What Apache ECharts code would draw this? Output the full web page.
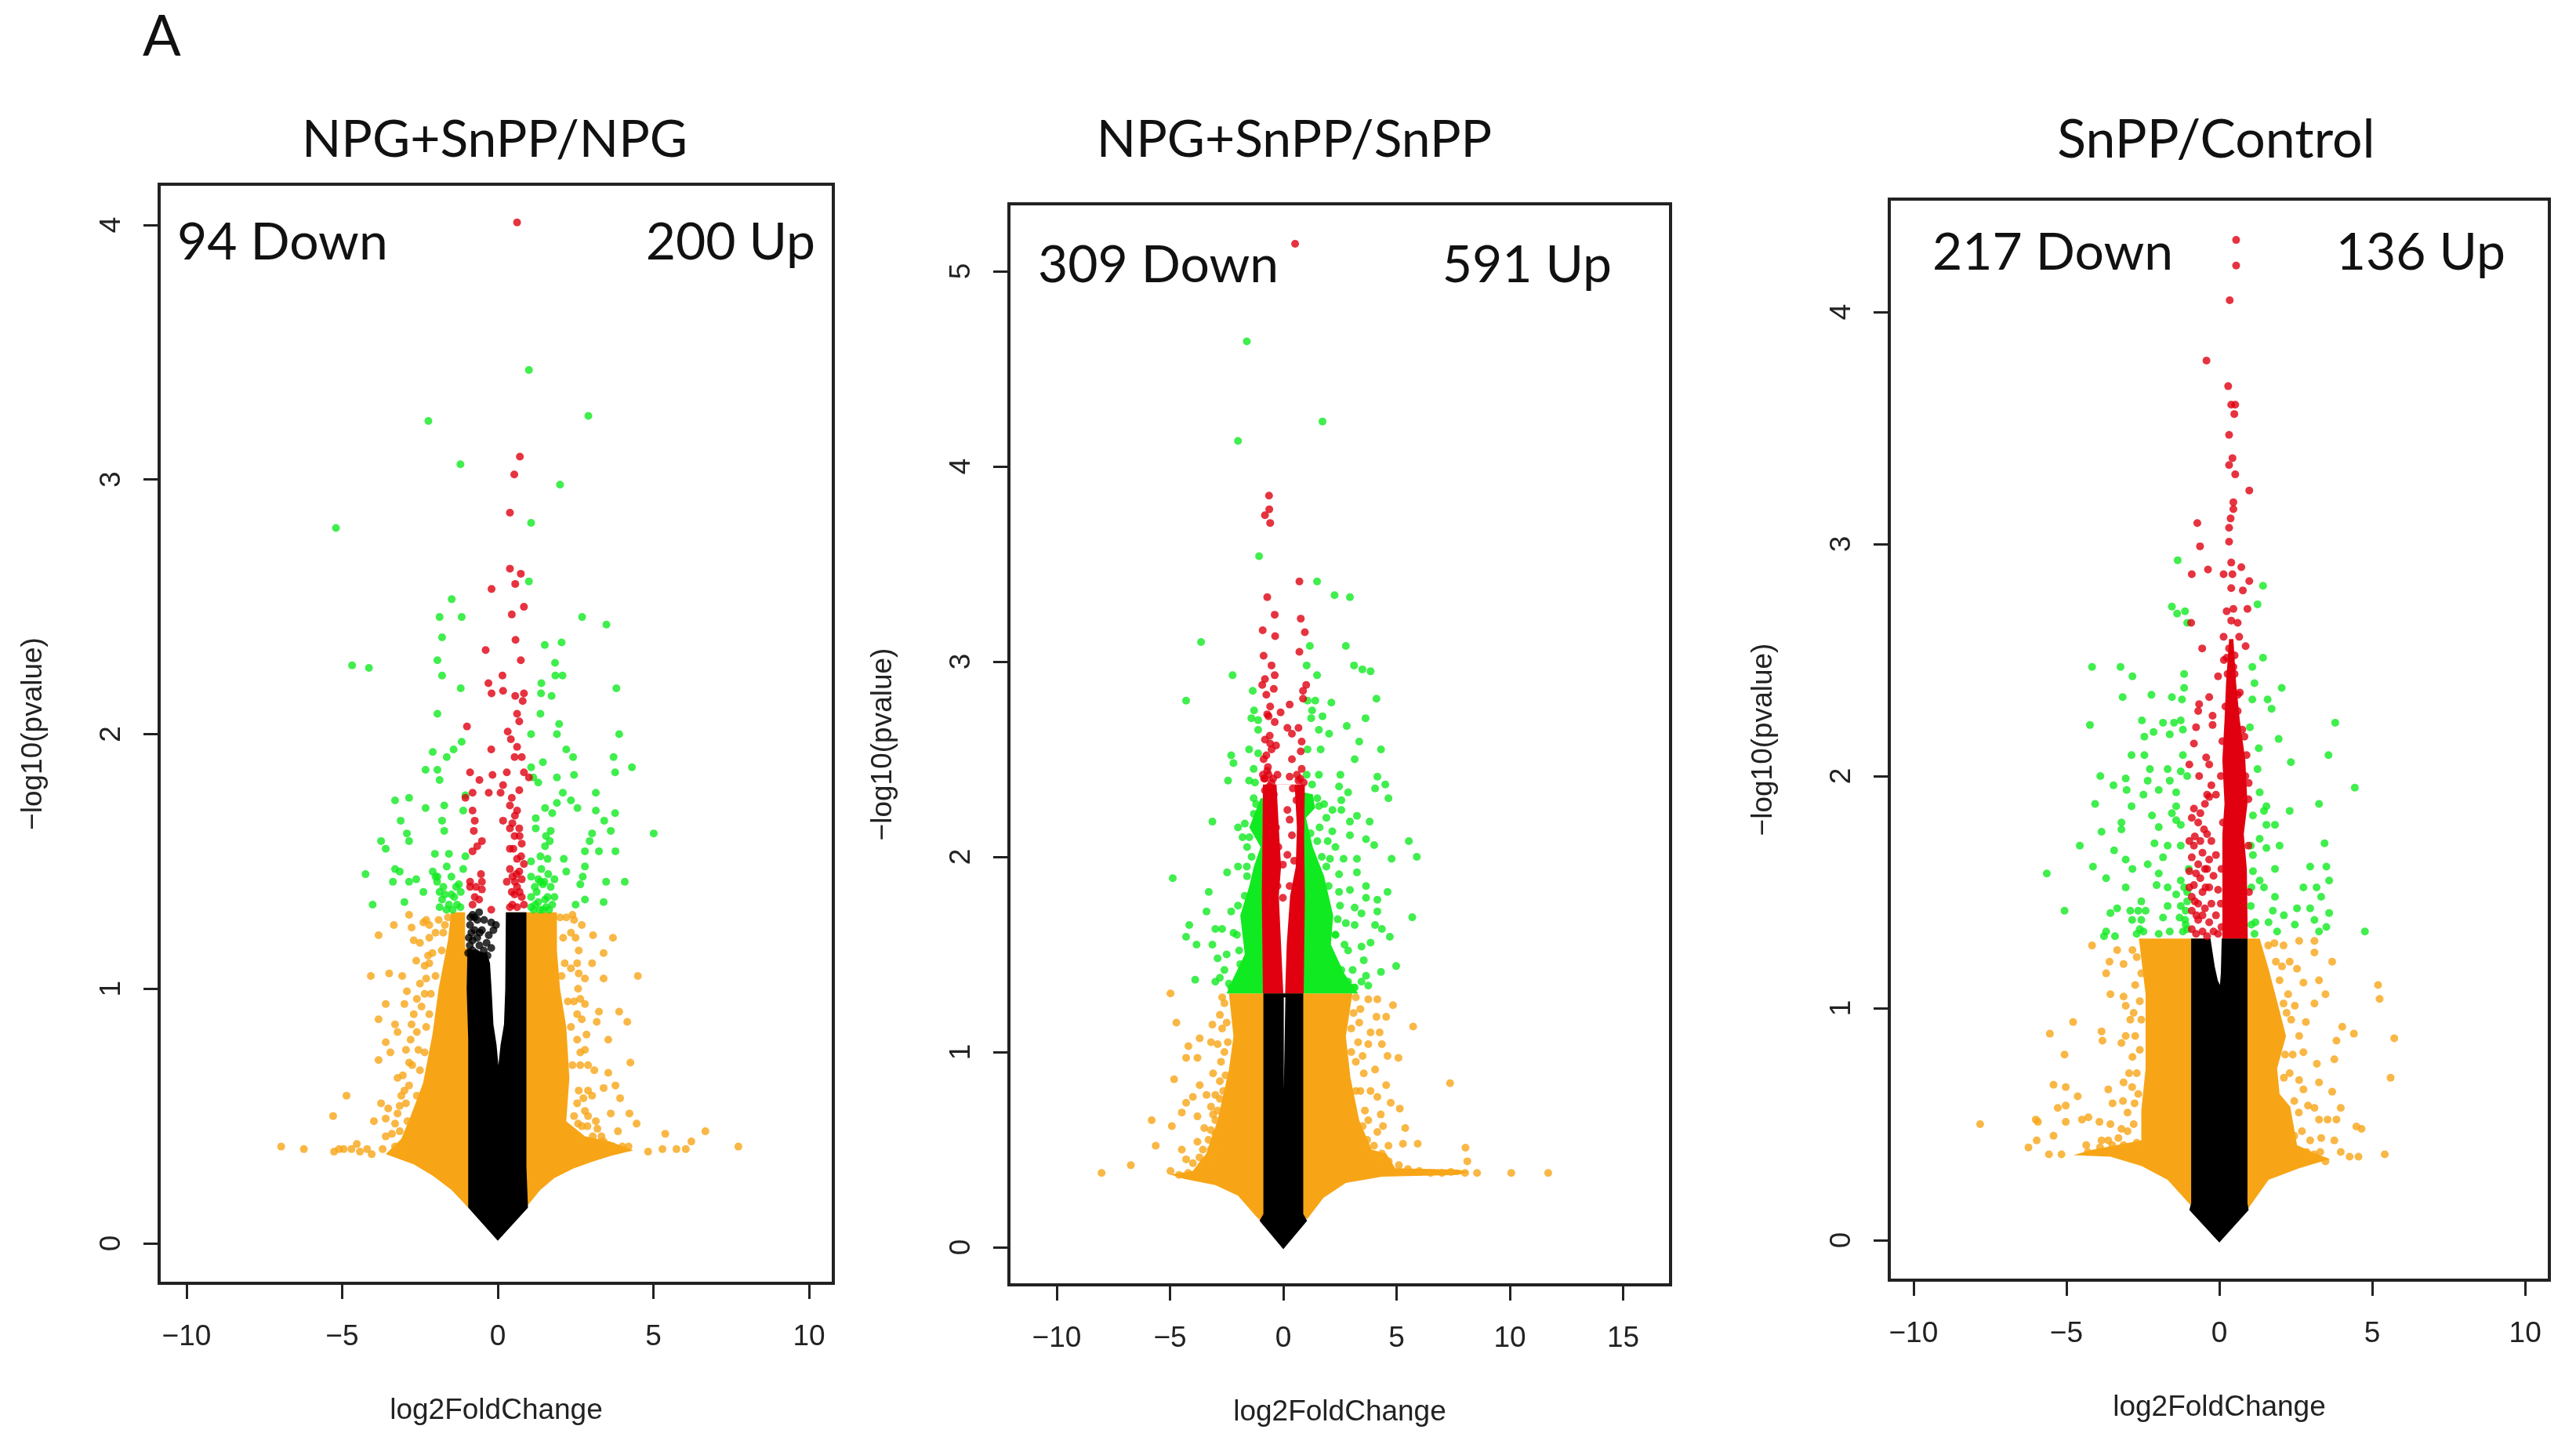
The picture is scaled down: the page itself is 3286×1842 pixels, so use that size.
<!DOCTYPE html>
<html><head><meta charset="utf-8">
<style>html,body{margin:0;padding:0;background:#fff}#c{width:3286px;height:1842px}</style>
<script src="https://cdn.jsdelivr.net/npm/echarts@6/dist/echarts.min.js"></script>
</head><body><div id="c"></div>
<script>
// ---------- text ----------
const panelTitles = ['NPG+SnPP/NPG','NPG+SnPP/SnPP','SnPP/Control'];
const downLabels = ['94 Down','309 Down','217 Down'];
const upLabels = ['200 Up','591 Up','136 Up'];
const xName = 'log2FoldChange';
const yName = '\u2212log10(pvalue)';
const xTicks = [[-10,-5,0,5,10],[-10,-5,0,5,10,15],[-10,-5,0,5,10]];
const yTicks = [[0,1,2,3,4],[0,1,2,3,4,5],[0,1,2,3,4]];

// ---------- panel 1: hand-read points [log2FC, -log10 p] ----------
const p1Red=[[.62,4.01],[.71,3.09],[.53,3.02],[.39,2.87],[.39,2.65],[.74,2.63],[.56,2.59],[-.2,2.57],[.84,2.5],[.45,2.47],[.57,2.37],[-.39,2.33],[.74,2.29],[.15,2.23],[-.3,2.2],[-.2,2.16],[.17,2.17],[.56,2.15],[.84,2.16],[.8,2.13],
[.62,2.08],[.69,2.05],[-.99,2.03],[.32,2.01],[.42,1.98],[.62,1.95],[-.21,1.94],[.54,1.91],[.77,1.91],[.84,1.85],[-.89,1.85],[.29,1.85],[-.17,1.84],[1,1.83],[-.59,1.82],[.17,1.8],[-.81,1.77],[-.29,1.77],[.09,1.77],[.69,1.78],[-1.04,1.75],[.39,1.72],[.62,1.7],[.17,1.66],[-.81,1.7],[-.74,1.66],[.47,1.65],[.69,1.63],[.39,1.63],[-.77,1.62],[.54,1.6],[-.51,1.58],[.39,1.55],[.77,1.57],[-.66,1.56],[-.81,1.54],[.62,1.51],[.84,1.49],[.39,1.47],[.69,1.46],[-.54,1.45],[-.89,1.42],[-.51,1.42],[.47,1.44],[.77,1.43],[.29,1.42],[.62,1.4],[-.89,1.4],[-.51,1.39],[.54,1.37],[-.74,1.36],[.77,1.36],[.47,1.33],[-.81,1.33],[-.21,1.31],[.62,1.32],[.84,1.33],[.39,1.32],[.55,1.68],[.45,1.75],[.75,1.52],[.55,1.42],[.7,1.38],[.45,1.38],[.6,1.45],[.5,1.55],[.7,1.6],[-.7,1.4],[-.6,1.35]];
const p1Green=[[1,3.43],[2.91,3.25],[-2.23,3.23],[-1.2,3.06],[2,2.98],[-5.2,2.81],[1.07,2.83],[1,2.6],[-1.48,2.53],[-1.87,2.46],[-1.16,2.46],[2.71,2.46],[3.49,2.43],[-1.79,2.38],[1.51,2.35],[2.05,2.36],[-1.94,2.29],[-4.68,2.27],[-4.14,2.26],[1.84,2.28],[-1.79,2.23],[1.85,2.23],[2.08,2.23],[-1.19,2.18],[1.4,2.2],[3.81,2.18],[1.39,2.16],[1.73,2.15],
[-1.94,2.08],[1.37,2.08],[1.97,2.04],[1.07,2],[1.9,2],[3.9,2],[-1.16,1.97],[-1.42,1.94],[-2.09,1.93],[-1.64,1.91],[2.2,1.94],[2.42,1.91],[1.45,1.89],[1.07,1.87],[-2.32,1.86],[-1.94,1.86],[3.72,1.91],[3.77,1.85],[4.31,1.87],[1.14,1.83],[1.9,1.83],[2.45,1.84],[-1.87,1.82],[1.3,1.81],[3.15,1.77],[2.09,1.77],[-3.3,1.74],[-2.85,1.75],[-1.04,1.76],[1.9,1.73],[2.35,1.74],[-2.32,1.71],[-1.72,1.72],[-1.11,1.7],[1.52,1.71],[2.56,1.71],[3.15,1.7],[3.77,1.69],[-3.12,1.66],[-1.79,1.66],[1.75,1.69],[1.22,1.67],[3.42,1.66],[3.03,1.61],[3.63,1.62],[5.01,1.61],[-2.92,1.61],[-1.72,1.62],[1.22,1.63],[-2.85,1.58],[-3.75,1.58],[1.67,1.58],[2.95,1.58],[2.8,1.54],[1.52,1.56],[-3.6,1.55],[-2.02,1.53],[-1.57,1.53],[-1.04,1.52],[3.78,1.54],[3.25,1.54],[1.37,1.52],[1.07,1.5],[1.6,1.51],[2.12,1.51],[-3.3,1.47],[-1.64,1.48],[-1.11,1.47],[2.8,1.48],[2.2,1.46],[-3.15,1.46],[-2.09,1.46],[-1.94,1.44],[-4.25,1.45],[-1.49,1.44],[2.73,1.44],[1.82,1.43],[3.48,1.42],[4.08,1.42],[-2.62,1.43],[-3.37,1.42],[-2.85,1.42],[-2.39,1.38],[-1.87,1.38],[-1.34,1.4],[1.3,1.43],[1.07,1.44],[1.45,1.41],[2.65,1.41],[-1.49,1.37],[-1.19,1.38],[-1.79,1.35],[-1.57,1.33],[-1.31,1.33],[-1.87,1.32],[-4.02,1.33],[-3,1.34],[1.07,1.36],[1.3,1.34],[1.52,1.35],[1.82,1.36],[1.07,1.32],[1.45,1.31],[1.75,1.33],[2.5,1.33],[2.8,1.35],[3.4,1.34],[1.19,1.4],[1.37,1.42],[-2,1.44],[-1.95,1.42],[-1.7,1.37],[-1.4,1.36],[-1.2,1.32],[1.2,1.33],[1.6,1.36],[1.25,1.38],[1.5,1.42],[1.7,1.4],[1.55,1.32],[1.15,1.31],[1.35,1.31],[1.65,1.31],[-1.65,1.31],[-1.45,1.31],[-1.75,1.4],[-1.25,1.41],[1.62,1.45],[1.4,1.47],[1.55,1.6],[1.7,1.62]];
const p1Orange=[[-6.96,.38],[-6.23,.37],[-5.29,.5],[-4.86,.58],[-5.26,.36],[-4.95,.37],[-4.53,.39],[-4.43,.36],[-4.05,.35],[-3.98,.48],[-3.75,.55],[-3.6,.49],[-3.52,.53],[-3.15,.54],[-3.22,.65],[-3.83,.72],[-3.45,.75],[-3.6,.79],[-3.22,.83],[-3.83,.88],[-3.6,.94],[-3.3,.86],[-4.08,1.05],[-3.49,1.06],[-3.07,1.05],[-2.92,.99],[-3,.94],[-3.83,1.21],[-3.34,1.25],[-2.85,1.29],[-2.77,1.24],[-2.39,1.26],[-2.7,1.19],[-2.62,1.11],[-2.24,1.13],[-2.77,.86],[-2.85,.71],[-3,.6],[-3.22,.51],[-5.1,.37],[-4.7,.37],[-4.2,.37],
[-2.3,1.27],[-2.2,1.2],[-2.5,1.18],[-2.35,1.09],[-2.5,1.02],[-2.3,1.04],[-2.6,.96],[-2.45,.93],[-2.7,.9],[-2.6,.83],[-2.8,.8],[-2.55,.76],[-2.95,.76],[-2.75,.7],[-3.05,.66],[-2.85,.62],[-3.1,.58],[-2.95,.55],[-3.3,.47],[-3.4,.43],[-3.15,.44],[-3.6,.42],[-2.6,.58],[-2.9,.48],[-2.2,1.25],[-1.9,1.27],[-2,1.22],[-2.1,1.14],[-3.7,.37],[-3.3,.38],[-3,.36],
[-1.7,1.25],[-1.8,1.15],[-2,1.05],[-2.15,.98],[-2.2,.9],[-2.3,.85],[-2.35,.75],[-2.5,.68],[-2.2,1.1],[-2.35,.98],[-1.6,1.28],[-1.75,1.22],
[7.73,.38],[6.67,.44],[6.22,.4],[6.04,.37],[5.74,.37],[5.29,.37],[5.38,.43],[4.83,.36],[4.46,.47],[4.23,.51],[4.26,.71],[4.16,.87],[3.9,.91],[4.5,1.05],[3.7,1.2],[3.06,1.21],[3.4,1.14],[3.03,1.1],[3.4,1.04],[2.8,1.04],[2.58,1],[3.25,.91],[2.8,.94],[3.18,.87],[3.55,.8],[2.8,.76],[3.1,.68],[3.55,.67],[3.78,.62],[3.4,.61],[3.93,.57],[3.63,.51],[3.03,.58],[2.8,.52],[3.86,.44],[3.33,.42],[2.88,.46],[2.58,.47],[2.7,1.25],[2.6,1.15],[2.45,1.27],[2.55,.9],[2.65,.7],[2.9,.6],[3.2,.45],
[2.4,1.29],[2.5,1.2],[2.35,1.22],[2.55,1.1],[2.35,1.08],[2.6,1.06],[2.65,.96],[2.45,.95],[2.7,.88],[2.55,.8],[2.85,.82],[2.65,.75],[2.9,.7],[2.6,.6],[2.75,.57],[2.55,.55],[2.45,.5],[2.9,.5],[3.05,.42],[3.4,.4],[3.7,.38],[4,.38],[4.2,.38],[2.7,.46],[2.6,.42],[3.15,.48],
[2,1.28],[2.1,1.2],[2.15,1.1],[2.25,.95],[2.35,.85],[2.4,.7],[2.05,1.05],[2.2,1.28]];
const p1BlackDots=[[-.81,1.29],[-.66,1.27],[-.44,1.27],[-.21,1.26],[-.74,1.23],[-.51,1.23],[-.29,1.21],[-.14,1.23],[-.81,1.19],[-.59,1.17],[-.36,1.18],[-.21,1.16],[-.81,1.15],[-.06,1.25],[-.89,1.25],[-.66,1.2],[-.88,1.28],[-.7,1.14],[-.5,1.12],[-.93,1.2],[-.9,1.17],[-.75,1.28],[-.58,1.22],[-.45,1.15],[-.33,1.13],[-.95,1.14],[-.6,1.3],[-.85,1.22]];
// envelopes of regions where the dots merge into a solid fill
const p1OrangeFill=[[-.95,.14],[-1.49,.21],[-2.09,.266],[-2.7,.31],[-3.6,.35],[-3.1,.41],[-2.8,.5],[-2.4,.63],[-2.1,.82],[-1.9,1],[-1.6,1.19],[-1.5,1.3],[1.9,1.3],[1.9,1.15],[2,1],[2.2,.85],[2.3,.65],[2.2,.48],[2.8,.42],[3.6,.4],[4.35,.365],[3.63,.343],[3.03,.32],[2.42,.293],[1.82,.256],[1.37,.21],[.9,.14]];
const p1BlackFill=[[0,.01],[.97,.14],[.92,.3],[.92,1.3],[-.95,1.3],[-1,1],[-.95,.8],[-.95,.14]];
const p1BlackGap=[[-1.05,1.31],[.26,1.31],[.24,1],[.2,.86],[.09,.78],[.02,.7],[-.04,.78],[-.14,.86],[-.2,1],[-.25,1.1],[-.35,1.14],[-1.05,1.16]];

// ---------- panel 2 ----------
const p2Red=[[.52,5.14],[-.63,3.85],[-.62,3.78],[-.81,3.75],[-.58,3.71],[.71,3.41],[-.71,3.33],[-.38,3.24],[.77,3.22],[-.91,3.16],[.95,3.15],[-.36,3.13],[.71,3.05],[-.87,3.03],[-.52,2.98],[-.38,2.93],[-.81,2.91],[-.93,2.88],[1.01,2.88],[-.42,2.86],[-.75,2.83],[.87,2.85],[-.58,2.77],[.28,2.78],[.87,2.81],[-.71,2.73],[-.12,2.74],[-.38,2.69],[.18,2.66],[.67,2.66],[.38,2.63],[.81,2.59],[-.81,2.6],[-.58,2.58],[-.32,2.57],[-.52,2.55],[.77,2.54],[.38,2.5],[-.87,2.5],[.81,2.45],[-.71,2.44],[-.26,2.42],[-.81,2.4],[.28,2.41],[-.52,2.38],[.67,2.39],[-.81,2.34],[-.42,2.32],[.42,2.35],[.77,2.32],[-.71,2.28],[-.52,2.27],[.58,2.29],[-.65,2.72],[-.6,2.62],[-.75,2.52],[-.68,2.46],[-.62,2.36],[-.85,2.4],[-.65,2.42],[-.45,2.4],[.6,2.42],[.75,2.4],[.9,2.38],[-.9,2.42],
[.18,2.24],[.28,2.19],[-.32,2.15],[.38,2.11],[-.22,2.05],[.18,2.01],[-.02,1.96],[-.32,1.93],[.48,1.98],[.28,1.85],[-.02,1.79],[-.26,1.85]];
const p2Green=[[-1.61,4.64],[1.73,4.23],[-2,4.13],[-1.07,3.54],[1.49,3.41],[2.26,3.34],[2.94,3.33],[-3.63,3.1],[1.17,3.08],[2.76,3.08],[1.03,2.98],[3.12,2.98],[3.49,2.96],[3.85,2.95],[-2.24,2.93],[1.49,2.93],[-1.35,2.85],[-4.29,2.8],[4.11,2.81],[1.07,2.8],[1.41,2.8],[2.12,2.79],[-1.29,2.75],[1.27,2.75],[-1.41,2.71],[-1.11,2.7],[1.73,2.72],[1.23,2.71],[3.63,2.71],[2.8,2.67],[1.57,2.65],[2.02,2.63],[-1.11,2.65],[3.35,2.59],[1.07,2.55],[1.65,2.55],[4.31,2.55],[-1.51,2.55],[-2.3,2.52],[-2.2,2.48],[-1.11,2.53],[3.15,2.5],[-1.31,2.45],[1.03,2.42],[1.57,2.42],[2.52,2.42],[-2.44,2.39],[4.15,2.41],[-1.51,2.39],[-1.25,2.38],[2.46,2.36],[4.5,2.37],[4.05,2.35],[1.27,2.37],[2.86,2.33],[4.64,2.3],[2.56,2.29],[-1.31,2.3],
[-3.13,2.18],[-4.88,1.89],[-2.48,1.92],[-3.29,1.82],[-3.39,1.72],[-4.15,1.65],[-4.29,1.59],[-3.83,1.55],[-3.13,1.55],[-3,1.63],[-2.7,1.63],[-2.2,1.61],[-2.9,1.48],[-2.6,1.42],[-3.89,1.37],[-3,1.36],[-2.4,1.35],[-2,1.95],[-1.61,1.95],[-2,2.15],[-1.8,2.1],[-1.6,2.05],[-2.3,1.72],[-2.5,1.5],[-2.8,1.38],
[-2.3,1.33],[-2,1.36],[-1.9,1.45],[-1.95,1.52],[-2.05,1.6],[-2,1.75],[-1.7,1.8],[-1.6,1.9],[-1.4,2],[-1.5,2.1],[-1.7,2.17],[-1.3,2.22],[-1.2,2.27],
[5.54,2.08],[5.89,2],[4.78,1.99],[4.6,1.82],[5.69,1.69],[4.7,1.59],[4.98,1.44],[4.31,1.41],[3.81,2.18],[3.25,2.21],[2.94,2.18],[2.94,2.11],[3.65,2.09],[4.01,2.06],[2.66,1.99],[3.25,1.99],[3.25,1.92],[2.46,1.91],[3.65,1.85],[2.94,1.83],[2.46,1.82],[4.15,1.78],[3.65,1.79],[3.15,1.74],[4.15,1.72],[3.45,1.71],[2.76,1.66],[3.15,1.65],[4.05,1.65],[3.85,1.56],[3.45,1.54],[4.35,1.63],[2.86,1.52],[3.55,1.47],[2.56,1.42],[3.06,1.42],[3.65,1.39],[2.86,1.36],[3.75,1.34],[3.15,1.33],[3.45,1.36],[1.96,2.08],[2.17,2.24],[2.56,2.24],[1.57,2.26],[2.06,1.99],[2.16,2.13],[2.3,1.6],[2.5,1.75],[2.7,1.55],[1.6,2.15],[1.9,2.2],[2.3,2.05],
[3.1,1.33],[2.6,1.36],[2.3,1.44],[2.3,1.6],[2.4,1.68],[2,1.85],[1.9,1.95],[1.5,2.08],[1.7,2],[1.2,2.12],[1.5,2.3],[1.8,2.27]];
const p2Orange=[[-8.02,.38],[-6.73,.42],[-5.63,.52],[-5.81,.65],[-4.92,.62],[-4.98,1.3],[-4.72,1.15],[-4.82,.86],[-4.98,.39],[-4.48,.5],[-4.29,.45],[-4.48,.69],[-4.19,1.03],[-4.29,.97],[-3.69,1.07],[-3.79,.97],[-3.19,1.05],[-3.13,1.14],[-2.8,1.19],[-2.7,1.28],[-2.9,1.04],[-3.1,.89],[-3.69,.83],[-3.39,.78],[-3.99,.77],[-4.29,.74],[-3.79,.67],[-3.49,.61],[-3.79,.54],[-3,.65],[-3,.52],[-3.99,.43],[-3.49,.44],[-2.8,.76],[-3.19,.72],
[-2.6,1.25],[-2.5,1.15],[-2.7,1.12],[-2.45,1.05],[-2.6,1],[-2.75,.95],[-2.55,.88],[-2.8,.85],[-2.65,.8],[-3,.78],[-2.9,.7],[-3.1,.68],[-3.2,.6],[-3,.58],[-3.3,.55],[-3.2,.5],[-3.55,.5],[-3.6,.42],[-4.2,.38],[-4.6,.37],[-3.7,.46],[-3.2,.45],
[11.69,.38],[10.06,.38],[8.55,.38],[8.02,.38],[8.12,.44],[8.04,.51],[7.36,.84],[5.73,1.13],[5.08,.97],[4.84,1.24],[4.15,1.27],[3.75,1.27],[4.54,1.18],[4.11,1.18],[4.25,1.1],[3.85,1.1],[3.35,1.15],[4.35,1.04],[4.6,.98],[3.75,1.04],[4.05,.91],[3.55,.89],[4.54,.83],[3.85,.8],[4.74,.74],[5.14,.71],[4.15,.77],[5.38,.61],[5.28,.53],[5.93,.53],[4.15,.59],[4.64,.52],[3.75,.65],[4.35,.48],[3.55,.5],[3.85,.46],
[3.2,1.28],[3.1,1.2],[3,1.12],[3.3,1.05],[3,1],[3.2,.95],[3.4,.8],[3.2,.8],[3.6,.7],[3.5,.62],[3.7,.55],[4,.52],[4.25,.45],[4.65,.44],[5.1,.42],[5.5,.4],[6,.39],[6.5,.38],[7,.38],[7.4,.385],[3.4,1.22],[3.5,.98],[4.4,.62],[4.3,.68]];
const p2OrangeFill=[[-1,.135],[-1.2,.157],[-2,.264],[-3,.318],[-4.39,.35],[-4.98,.372],[-4,.39],[-3.4,.48],[-2.9,.65],[-2.4,.91],[-2.2,1.08],[-2.4,1.3],[3.05,1.3],[2.76,1.08],[2.96,.87],[3.35,.65],[3.9,.5],[4.54,.48],[4.94,.404],[7.7,.397],[8.2,.385],[7.7,.37],[4.35,.361],[2.76,.329],[1.77,.253],[1.07,.146]];
const p2GreenFill=[[-.9,1.3],[-2.5,1.3],[-2.2,1.38],[-1.7,1.5],[-1.9,1.7],[-1.5,1.85],[-1.3,1.95],[-1,2.05],[-1.5,2.15],[-1,2.3],[-.9,2.3],[.9,2.33],[1.3,2.32],[1.4,2.25],[1,2.2],[1.3,2.05],[1.8,1.9],[2.2,1.7],[2.1,1.55],[2.7,1.4],[3.3,1.3]];
const p2RedFill=[[-.9,1.3],[-.95,1.8],[-.92,2.1],[-.9,2.37],[.95,2.37],[.92,2.1],[.95,1.8],[.9,1.3]];
const p2RedGap=[[0,1.3],[-.1,1.55],[-.2,1.8],[-.1,1.95],[-.2,2.15],[-.3,2.37],[.5,2.37],[.6,2.15],[.55,1.95],[.3,1.8],[.15,1.55],[.08,1.3]];
const p2BlackFill=[[0,-.01],[1.05,.135],[.88,.17],[.88,1.3],[-.88,1.3],[-.88,.17],[-1.05,.135]];
const p2BlackGap=[[.02,.8],[.09,1.28],[.02,1.28]];

// ---------- panel 3 ----------
const p3Red=[[.55,4.31],[.55,4.2],[.34,4.05],[-.42,3.79],[.29,3.68],[.39,3.6],[.52,3.6],[.49,3.56],[.32,3.47],[.43,3.37],[.32,3.34],[.52,3.3],[.98,3.23],[.46,3.18],[.46,3.15],[.37,3.11],[-.72,3.09],[.32,3.07],[.32,3.01],[-.63,2.99],[.39,2.92],[-.37,2.89],[.72,2.9],[-.9,2.87],[.14,2.87],[.43,2.87],[.98,2.84],[.39,2.81],[.77,2.8],[.24,2.71],[.46,2.72],[.92,2.72],[.39,2.67],[-.92,2.66],[.6,2.66],[.14,2.6],[.65,2.6],[-.56,2.55],[.86,2.56],[.32,2.55],[.24,2.51],[.46,2.47],[-.04,2.43],[.39,2.4],[.67,2.36],[-.33,2.34],[-.66,2.31],[.39,2.33],[-.69,2.28],[-.22,2.26],[.6,2.28],[-.76,2.21],[-.22,2.22],[-.83,2.14],[.82,2.17],[-.43,2.08],[.89,2.09],[-.98,2.05],[-.33,2.05],[-.66,2],[-.26,1.96],[.96,1.97],[-.4,1.92],[-.11,1.92],
[.15,2.5],[.5,2.52],[.2,2.3],[.6,2.35],[.1,2.15],[.75,2.2],[.05,2],[.85,2],[.12,1.8],[.95,1.9],[.07,1.6],[.95,1.7],[.05,1.45],[.97,1.5],[.07,1.35],[.27,2.44],[.5,2.44],
[-.83,1.86],[-.62,1.84],[-.33,1.91],[-.47,1.88],[-.9,1.82],[-.69,1.8],[-.4,1.75],[-.26,1.72],[-.83,1.7],[-.55,1.67],[-.11,1.66],[-.33,1.64],[-.9,1.65],[-.69,1.62],[-.4,1.6],[-.98,1.59],[-.19,1.57],[-.62,1.56],[-.83,1.53],[-.33,1.52],[-.04,1.51],[-.55,1.5],[-.9,1.48],[-.69,1.45],[-.26,1.45],[-.47,1.43],[-.9,1.42],[-.11,1.4],[-.69,1.38],[-.33,1.37],[-.9,1.34],[-.55,1.33],[-.19,1.33],[-.76,1.32],[-.4,1.31],[-.04,1.32],[-.62,1.72],[-.8,1.74],[-.98,1.72],[-.76,1.58],[-.98,1.52],[-.47,1.6],[-.5,1.77],[-.75,1.4],[-.55,1.4],[-.8,1.46],[-.45,1.52]];
const p3Green=[[-1.36,2.93],[1.43,2.82],[1.25,2.74],[-1.55,2.73],[-1.38,2.7],[-1.12,2.71],[-1.05,2.66],[1.43,2.51],[-4.16,2.47],[-3.23,2.47],[-2.84,2.43],[1.08,2.47],[-1.15,2.44],[1.15,2.4],[2.04,2.38],[-1.15,2.38],[-2.22,2.35],[-3.16,2.34],[-1.55,2.34],[-1.22,2.33],[1.08,2.33],[1.58,2.33],[1.71,2.29],[-2.53,2.24],[-1.84,2.23],[-1.48,2.23],[-1.26,2.24],[-4.23,2.22],[1,2.21],[3.79,2.23],[-1.19,2.2],[-2.15,2.19],[-1.62,2.18],[-2.45,2.17],[1.94,2.16],[1.29,2.12],[-2.87,2.09],[-2.45,2.09],[-1.19,2.09],[3.57,2.09],[2.34,2.06],[-2.27,2.03],[-1.69,2.03],[1.25,2.03],[-1.26,2.02],[-3.89,2],[-3.06,1.99],[-2.34,1.98],[-1.62,1.98],[-1.05,2],[-3.46,1.96],[4.43,1.95],[-3.03,1.94],[-1.98,1.94],[-2.48,1.92],[-1.41,1.93],[1.32,1.93],[-4.06,1.88],[-2.87,1.87],[-1.41,1.87],[1.54,1.87],[3.26,1.88],
[2.3,1.85],[-3.2,1.8],[-3.2,1.77],[-3.85,1.76],[-2.2,1.83],[-1.98,1.78],[-1.55,1.84],[-1.41,1.81],[-1.26,1.79],[1.54,1.79],[1.82,1.79],[1.1,1.83],[1.46,1.85],[1.32,1.73],[-4.56,1.7],[-3.44,1.68],[-2.12,1.71],[-1.69,1.7],[-1.26,1.7],[1.03,1.7],[1.54,1.69],[1.97,1.7],[3.44,1.71],[-3.06,1.64],[-2.34,1.62],[-1.84,1.65],[-4.13,1.61],[-2.84,1.6],[-1.98,1.58],[-5.64,1.58],[-3.7,1.56],[2.97,1.61],[3.5,1.61],[1.1,1.59],[1.82,1.6],[1.32,1.55],[-2.05,1.53],[-1.26,1.55],[3.59,1.55],[2.75,1.52],[1.46,1.52],[-3.06,1.52],[-1.69,1.52],[-1.05,1.5],[3.18,1.52],[3.33,1.48],[-2.55,1.46],[-1.41,1.49],[1.82,1.48],[-3.34,1.43],[-1.69,1.44],[-1.26,1.44],[1.03,1.44],[2.54,1.43],[2.97,1.43],[-5.06,1.42],[-3.56,1.41],[-2.91,1.42],[-2.41,1.42],[1.75,1.42],[3.59,1.41],[2.11,1.4],[3.11,1.38],[-2.85,1.38],[-2.55,1.38],[-1.84,1.39],[-1.12,1.38],[1.18,1.37],[1.61,1.37],[2.47,1.36],[3.5,1.35],[4.76,1.33],[-3.7,1.33],[-3.77,1.31],[-3.41,1.31],[-2.7,1.32],[-2.48,1.33],[-1.98,1.32],[-1.62,1.33],[-1.19,1.33],[-1.05,1.34],[1.15,1.32],[1.89,1.33],[3.26,1.33],[-1.1,1.42],[-1.05,1.46],[-1.15,1.52],[-1.1,1.36],[-2.65,1.42],[-2.6,1.34],[-1,1.6],[1.05,1.52],[1.05,1.36],[1.1,1.66],[-1.3,1.39]];
const p3Orange=[[-7.82,.5],[-6.24,.4],[-6,.52],[-5.93,.51],[-5.97,.43],[-5.57,.37],[-5.16,.37],[-5.42,.45],[-5.54,.89],[-4.78,.94],[-5.06,.8],[-5.42,.67],[-5.02,.66],[-4.63,.62],[-5.28,.57],[-5.02,.58],[-5.02,.51],[-4.49,.52],[-4.28,.53],[-3.92,.51],[-4.35,.41],[-3.85,.43],[-3.56,.5],[-3.2,.48],[-3.13,.41],[-3.63,.43],[-3.63,.65],[-3.49,.59],[-3.13,.68],[-2.77,.59],[-3.2,.85],[-3.85,.9],[-3.82,.86],[-3.06,.88],[-2.84,.79],[-3.56,1.06],[-3.13,1.05],[-3.06,1.01],[-2.91,.95],[-3.7,1.15],[-3.59,1.2],[-3.13,1.19],[-4.16,1.27],[-3.34,1.25],[-2.84,1.25],
[-2.7,1.22],[-2.55,1.15],[-2.75,1.1],[-2.6,1.03],[-2.8,.98],[-2.55,.95],[-2.75,.88],[-2.6,.82],[-2.7,.72],[-2.85,.66],[-2.65,.63],[-3,.55],[-2.8,.5],[-3,.47],[-3.3,.44],[-3.5,.41],[-3.9,.4],[-4.3,.38],[-2.7,.42],[-3.15,.6],[-2.95,.72],
[5.41,.37],[4.55,.36],[4.26,.36],[4.48,.49],[4.65,.48],[3.97,.38],[3.97,.57],[3.83,.52],[3.54,.52],[3.26,.52],[5.6,.7],[5.72,.87],[5.19,1.1],[5.24,1.04],[4.02,.92],[4.4,.89],[3.83,.86],[3.76,.78],[3.69,.64],[3.19,.76],[3.26,.68],[2.9,.58],[2.75,.65],[3.11,.57],[3.76,.43],[3.33,.44],[2.97,.43],[3.47,.34],[2.75,.81],[2.61,.88],[2.83,.94],[3.11,1.02],[3.47,1.06],[2.47,1.01],[2.75,1.11],[3.26,1.12],[3.69,1.2],[3.11,1.24],[2.61,1.29],[3.11,1.29],[2.54,1.17],[1.97,1.12],[2.25,1.06],[2.11,.7],[2.61,.69],
[1.6,1.27],[1.85,1.2],[1.8,1.28],[2.05,1.18],[2.1,1.02],[2.35,.95],[2.2,.98],[2.4,.8],[2.3,.72],[2.15,.8],[2.45,.6],[2.6,.55],[2.45,.45],[2.7,.47],[2.85,.38],[3.1,.37],[3.3,.38],[2.3,1.2],[2.1,1.27]];
const p3OrangeFill=[[-.86,.14],[-1.69,.26],[-2.55,.32],[-3.56,.36],[-4.78,.367],[-4.13,.39],[-2.55,.43],[-2.55,.56],[-2.41,.74],[-2.41,.88],[-2.41,1.06],[-2.63,1.3],[1.32,1.3],[1.61,1.17],[1.89,1.03],[2.18,.88],[1.89,.74],[1.97,.63],[2.32,.575],[2.54,.41],[3.2,.37],[3.62,.35],[2.61,.31],[1.61,.26],[.96,.14]];
const p3RedFill=[[.1,1.3],[.93,1.3],[.9,1.6],[.8,1.75],[.92,1.88],[.85,2.07],[.67,2.24],[.55,2.4],[.46,2.59],[.32,2.59],[.22,2.4],[.17,2.24],[.1,2.07],[.17,1.88],[.1,1.75]];
const p3BlackFill=[[0,-.01],[.96,.13],[.92,.16],[.92,1.3],[-.92,1.3],[-.92,.16],[-.98,.13]];
const p3BlackGap=[[-.3,1.31],[.08,1.31],[.05,1.15],[.02,1.1],[-.05,1.12],[-.15,1.18]];

// ---------- layout and style ----------
const frames=[
 {l:203,t:235,r:1063,b:1637,x:[-10.88,10.78],y:[-.157,4.16]},
 {l:1287,t:260,r:2131,b:1639,x:[-12.11,17.09],y:[-.193,5.345]},
 {l:2410,t:254,r:3252,b:1633,x:[-10.79,10.79],y:[-.172,4.486]}
];
const COL={red:'#e00010',green:'#10ea20',orange:'#f7a516',black:'#000',white:'#fff'};
const LATIN='Liberation Sans', CALI='Lato';
const fmt=v=>String(v).replace('-','\u2212');

function fill(i,pts,color){
  return {type:'custom',coordinateSystem:'cartesian2d',xAxisIndex:i,yAxisIndex:i,data:pts,encode:{x:0,y:1},silent:true,clip:false,
    renderItem:(p,api)=>p.dataIndex!==0?null:({type:'polygon',shape:{points:pts.map(q=>api.coord(q))},style:{fill:color}})};
}
function dots(i,pts,color){
  return {type:'scatter',xAxisIndex:i,yAxisIndex:i,data:pts,symbolSize:10,itemStyle:{color:color},silent:true,clip:false};
}
const series=[
 fill(0,p1OrangeFill,COL.orange),dots(0,p1Orange,COL.orange),dots(0,p1Green,COL.green),dots(0,p1Red,COL.red),
 fill(0,p1BlackFill,COL.black),fill(0,p1BlackGap,COL.white),dots(0,p1BlackDots,COL.black),
 fill(1,p2OrangeFill,COL.orange),dots(1,p2Orange,COL.orange),fill(1,p2GreenFill,COL.green),dots(1,p2Green,COL.green),
 fill(1,p2RedFill,COL.red),fill(1,p2RedGap,COL.white),dots(1,p2Red,COL.red),
 fill(1,p2BlackFill,COL.black),fill(1,p2BlackGap,COL.white),
 fill(2,p3OrangeFill,COL.orange),dots(2,p3Orange,COL.orange),dots(2,p3Green,COL.green),
 fill(2,p3RedFill,COL.red),dots(2,p3Red,COL.red),
 fill(2,p3BlackFill,COL.black),fill(2,p3BlackGap,COL.white)
];
const tickStyle={lineStyle:{color:'#222',width:3},length:20};
const hiddenLine={show:true,onZero:false,lineStyle:{color:'#222',width:0,opacity:0}};
const option={
 animation:false,backgroundColor:'#fff',
 grid:frames.map(f=>({left:f.l,top:f.t,width:f.r-f.l,height:f.b-f.t,show:true,borderColor:'#222',borderWidth:4,backgroundColor:'#fff'})),
 xAxis:frames.map((f,i)=>({type:'value',gridIndex:i,position:'bottom',min:f.x[0],max:f.x[1],splitLine:{show:false},axisLine:hiddenLine,
   axisTick:Object.assign({show:true,customValues:xTicks[i]},tickStyle),
   axisLabel:{customValues:xTicks[i],formatter:fmt,margin:50,fontFamily:LATIN,fontSize:37,color:'#222'},
   name:xName,nameLocation:'middle',nameGap:144,nameTextStyle:{fontFamily:LATIN,fontSize:37,color:'#222'}})),
 yAxis:frames.map((f,i)=>({type:'value',gridIndex:i,position:'left',min:f.y[0],max:f.y[1],splitLine:{show:false},axisLine:hiddenLine,
   axisTick:Object.assign({show:true,customValues:yTicks[i]},tickStyle),
   axisLabel:{customValues:yTicks[i],rotate:90,margin:42,fontFamily:LATIN,fontSize:37,color:'#222'},
   name:yName,nameLocation:'middle',nameGap:142,nameRotate:90,nameTextStyle:{fontFamily:LATIN,fontSize:37,color:'#222'}})),
 series:series,
 graphic:[
  {type:'text',x:182,y:48,style:{text:'A',font:'72px '+CALI,fill:'#111',textVerticalAlign:'middle'}},
  ...[[631,66],[1651,66],[2827,68]].map((a,i)=>({type:'text',x:a[0],y:179,style:{text:panelTitles[i],font:a[1]+'px '+CALI,fill:'#111',textAlign:'center',textVerticalAlign:'middle'}})),
  ...[[226,310],[1324,339],[2465,323]].map((a,i)=>({type:'text',x:a[0],y:a[1],z:50,style:{text:downLabels[i],font:'66px '+CALI,fill:'#111',textVerticalAlign:'middle'}})),
  ...[[1040,310],[2056,339],[3196,323]].map((a,i)=>({type:'text',x:a[0],y:a[1],z:50,style:{text:upLabels[i],font:'66px '+CALI,fill:'#111',textAlign:'right',textVerticalAlign:'middle'}}))
 ]
};
echarts.init(document.getElementById('c')).setOption(option);
</script></body></html>
